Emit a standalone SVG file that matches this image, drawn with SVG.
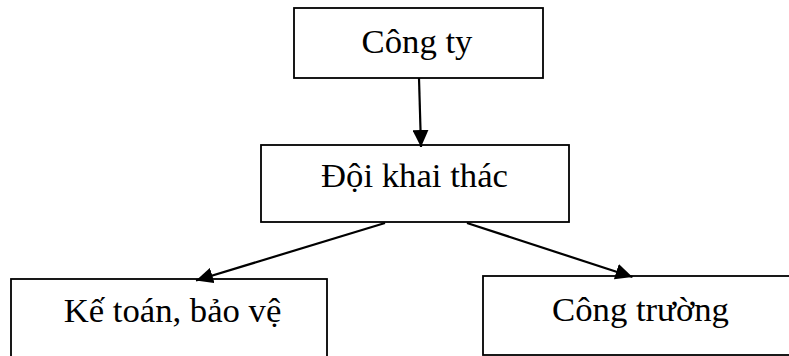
<svg xmlns="http://www.w3.org/2000/svg" width="789" height="356" viewBox="0 0 789 356">
<defs>
<style>
.box{fill:#fff;stroke:#000;stroke-width:1.8}
.lbl{font-family:"Liberation Serif","Times New Roman",serif;font-size:34.7px;fill:#000;text-anchor:middle}
.con{stroke:#000;stroke-width:2.2;fill:none}
</style>
<marker id="ah" markerUnits="userSpaceOnUse" markerWidth="18" markerHeight="16" refX="17" refY="8" orient="auto">
<path d="M0,0 L17,8 L0,16 z" fill="#000"/>
</marker>
</defs>
<rect width="789" height="356" fill="#fff"/>
<g id="node-congty">
<rect class="box" x="294" y="8" width="249" height="70"/>
<text class="lbl" x="417" y="53">Công ty</text>
</g>
<g id="node-doi">
<rect class="box" x="261" y="145" width="308" height="77"/>
<text class="lbl" x="414.5" y="187">Đội khai thác</text>
</g>
<g id="node-ketoan">
<rect class="box" x="11" y="279" width="316" height="90"/>
<text class="lbl" x="172.5" y="321.5">Kế toán, bảo vệ</text>
</g>
<g id="node-congtruong">
<rect class="box" x="483" y="276" width="320" height="79"/>
<text class="lbl" x="640.5" y="320.5">Công trường</text>
</g>
<g id="connectors">
<line class="con" x1="419" y1="78" x2="421" y2="147" marker-end="url(#ah)"/>
<line class="con" x1="385" y1="223" x2="196" y2="280.5" marker-end="url(#ah)"/>
<line class="con" x1="467" y1="223" x2="632.5" y2="277" marker-end="url(#ah)"/>
</g>
</svg>
